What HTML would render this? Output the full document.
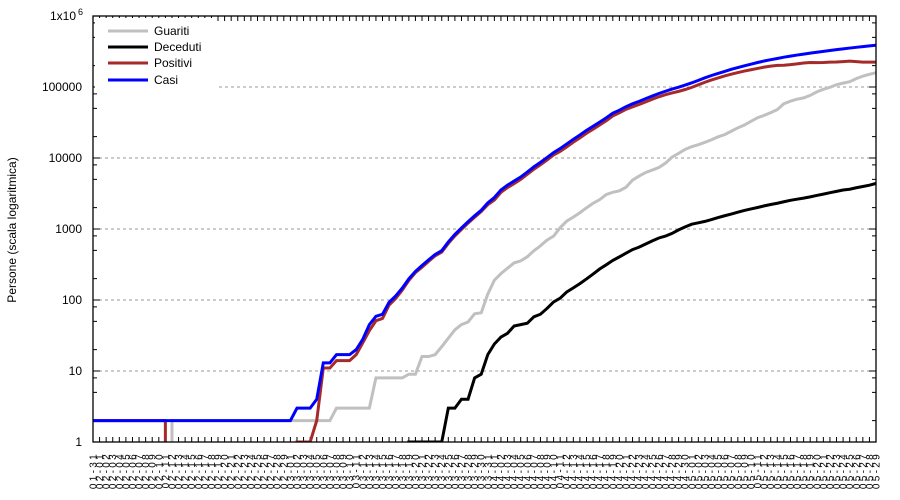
<!DOCTYPE html>
<html><head><meta charset="utf-8"><style>
html,body{margin:0;padding:0;background:#fff;}
svg{display:block;font-family:"Liberation Sans",Arial,sans-serif;}
</style></head><body>
<svg id="chart" width="900" height="500" viewBox="0 0 900 500">
<defs><clipPath id="plotclip"><rect x="93" y="16" width="783" height="426"/></clipPath></defs>
<g id="grid"></g>
<g id="ticks"></g>
<g id="series" clip-path="url(#plotclip)"></g>
<rect x="93" y="16" width="783" height="426" fill="none" stroke="#000" stroke-width="1.3"/>
<g id="ylabels"></g>
<g id="xlabels"></g>
<text x="16" y="230" font-size="12" text-anchor="middle" transform="rotate(-90 16 230)">Persone (scala logaritmica)</text>
<g>
<rect x="95" y="18" width="122" height="70" fill="#fff"/>
<g><line x1="108" y1="31" x2="148" y2="31" stroke="#c0c0c0" stroke-width="3"/><text x="154" y="35" font-size="12">Guariti</text></g>
<g><line x1="108" y1="47" x2="148" y2="47" stroke="#000" stroke-width="3"/><text x="154" y="51" font-size="12">Deceduti</text></g>
<g><line x1="108" y1="63" x2="148" y2="63" stroke="#a52a2a" stroke-width="3"/><text x="154" y="67" font-size="12">Positivi</text></g>
<g><line x1="108" y1="80" x2="148" y2="80" stroke="#0000ff" stroke-width="3"/><text x="154" y="84" font-size="12">Casi</text></g>
</g>
</svg>
<script>
const startMonth = 1, startDay = 31, dayCount = 120;
const yTickValues = [1, 10, 100, 1000, 10000, 100000, 1000000];
const yTickLabels = ["1", "10", "100", "1000", "10000", "100000", "1x10"];
const n = null;
const guariti = [n,n,n,n,n,n,n,n,n,n,n,n,
 2,2,2,2,2,2,2,2,2,2,2,2,2,2,2,2,2,2,2,2,2,2,2,2,2,
 3,3,3,3,3,3, 8,8,8,8,8, 9,9,16,16,17,22,29,38,45,49,64,66,121,
 190,235,281,333,355,406,494,580,698,794,1045,1291,1470,1694,1986,2304,2590,3057,3291,3446,3873,4891,5568,6250,6767,7346,8456,10286,11619,13220,
 14440,15406,16639,18095,19865,21327,23803,26608,29145,32862,36921,39801,43512,48003,58226,63166,67373,70209,76130,85392,92681,98825,107936,113299,118798,131129,142208,150993,159257];
const deceduti = [n,n,n,n,n,n,n,n,n,n,n,n,n,n,n,n,n,n,n,n,n,n,n,n,n,n,n,n,n,n,n,n,n,n,n,n,n,n,n,n,n,n,n,n,n,n,n,n,
 1,1,1,1,1,1,3,3,4,4,8,9,17,
 24,30,34,43,45,47,58,63,76,94,106,130,148,170,198,232,273,313,361,405,456,513,555,615,681,747,794,867,972,1073,
 1169,1222,1280,1356,1451,1537,1625,1723,1827,1915,2009,2116,2212,2305,2418,2537,2631,2722,2837,2972,3099,3249,3388,3541,3633,3807,3968,4142,4374];
const positivi = [2,2,2,2,2,2,2,2,2,2,2,2,
 n,n,n,n,n,n,n,n,n,n,n,n,n,n,n,n,n,n,n,
 1,1,1,2,11,11,14,14,14,17,25,37,51,55,85,105,138,189,243,289,350,420,472,626,799,987,1211,1462,1761,2199,
 2563,3283,3834,4355,4989,5890,6945,8029,9357,11029,12433,14349,16710,19238,22306,25402,29145,33423,39201,43270,48434,52595,56650,61757,67140,72856,77897,82405,86808,92205,
 98822,107426,116768,125817,134054,143065,151732,159528,167704,174911,182414,190326,196547,201937,202199,206340,211748,217747,220974,220341,221774,224374,224558,227641,230996,227406,224504,223916,223992];
const casi = [2,2,2,2,2,2,2,2,2,2,2,2,2,2,2,2,2,2,2,2,2,2,2,2,2,2,2,2,2,2,
 2,3,3,3,4,13,13,17,17,17,20,28,45,59,63,93,114,147,199,253,306,367,438,495,658,840,1036,1264,1534,1836,2337,
 2777,3548,4149,4731,5389,6343,7497,8672,10131,11917,13584,15770,18328,21102,24490,27938,32008,36793,42853,47121,52763,57999,62773,68622,74588,80949,87147,93558,99399,106498,
 114431,124054,134687,145268,155370,165929,177160,187859,198676,209688,221344,232243,242271,252245,262843,272043,281752,290678,299941,308705,317554,326448,335882,344481,353427,362342,370680,379051,387623];

const NS = "http://www.w3.org/2000/svg";
const X0 = 93, X1 = 876, YB = 442, YT = 16;
function xScale(i){ return X0 + i * (X1 - X0) / (dayCount - 1); }
function yScale(v){ return YB - Math.log10(v) * (YB - YT) / 6; }
function mk(tag, attrs, parent){ const e = document.createElementNS(NS, tag); for (const k in attrs) e.setAttribute(k, attrs[k]); parent.appendChild(e); return e; }

const dates = [];
{ const d = new Date(2020, startMonth - 1, startDay, 12);
  for (let i = 0; i < dayCount; i++){ const dd = new Date(d.getTime() + i * 86400000);
    dates.push(String(dd.getMonth()+1).padStart(2,"0") + "-" + String(dd.getDate()).padStart(2,"0")); } }

const grid = document.getElementById("grid");
const ticks = document.getElementById("ticks");
const ylabels = document.getElementById("ylabels");
const xlabels = document.getElementById("xlabels");

yTickValues.forEach((v, k) => {
  const y = yScale(v);
  if (v > 1 && v < 1000000){
    const gl = mk("line", {x1: X0, x2: X1, y1: y, y2: y, stroke: "#999", "stroke-width": 1, "stroke-dasharray": "3,3"}, grid);
    
    
  }
  [[X0, X0 + 7], [X1, X1 - 7]].forEach(p => {
    const t = mk("line", {x1: p[0], x2: p[1], y1: y, y2: y, stroke: "#000", "stroke-width": 1}, ticks);
    
    
  });
  if (v < 1000000){
    [2, 5, 8].forEach(m => { const ym = yScale(v * m);
      [[X0, X0 + 4], [X1, X1 - 4]].forEach(p => {
        const mt = mk("line", {x1: p[0], x2: p[1], y1: ym, y2: ym, stroke: "#000", "stroke-width": 1}, ticks);
        
        
      });
    });
  }
  const tx = mk("text", {x: 82, y: y + 4, "font-size": 12, "text-anchor": "end"}, ylabels);
  tx.textContent = yTickLabels[k];
  
  
  if (v === 1000000){
    tx.setAttribute("x", 76);
    const sup = mk("text", {x: 78, y: y - 1, "font-size": 9}, ylabels);
    sup.textContent = "6";
    
    
  }
});

dates.forEach((lab, i) => {
  const x = xScale(i);
  const tb = mk("line", {x1: x, x2: x, y1: YB, y2: YB - 5, stroke: "#000", "stroke-width": 1}, ticks);
  
  
  const tt = mk("line", {x1: x, x2: x, y1: YT, y2: YT + 5, stroke: "#000", "stroke-width": 1}, ticks);
  
  
  const t = mk("text", {x: 0, y: 0, "font-size": 10, "text-anchor": "end", "letter-spacing": "2.3",
    transform: "translate(" + (x + 3.5) + ",452) rotate(-90)"}, xlabels);
  t.textContent = lab;
  
  
});

const seriesG = document.getElementById("series");
function drawSeries(vals, color, name){
  let d = "", prevValid = false;
  const bottom = YB + 40;
  for (let i = 0; i < vals.length; i++){
    const v = vals[i];
    const x = xScale(i);
    if (v != null && v > 0){
      const y = yScale(v);
      if (!prevValid){ d += (i > 0 ? "M" + x + "," + bottom + "L" : "M") + x + "," + y; }
      else d += "L" + x + "," + y;
      prevValid = true;
    } else {
      if (prevValid){ d += "L" + xScale(i - 1) + "," + bottom; }
      prevValid = false;
    }
  }
  const p = mk("path", {d: d, fill: "none", stroke: color, "stroke-width": 3, "stroke-linejoin": "miter"}, seriesG);
  
  
}
drawSeries(guariti, "#c0c0c0", "guariti-line");
drawSeries(deceduti, "#000000", "deceduti-line");
drawSeries(positivi, "#a52a2a", "positivi-line");
drawSeries(casi, "#0000ff", "casi-line");
</script>
</body></html>
